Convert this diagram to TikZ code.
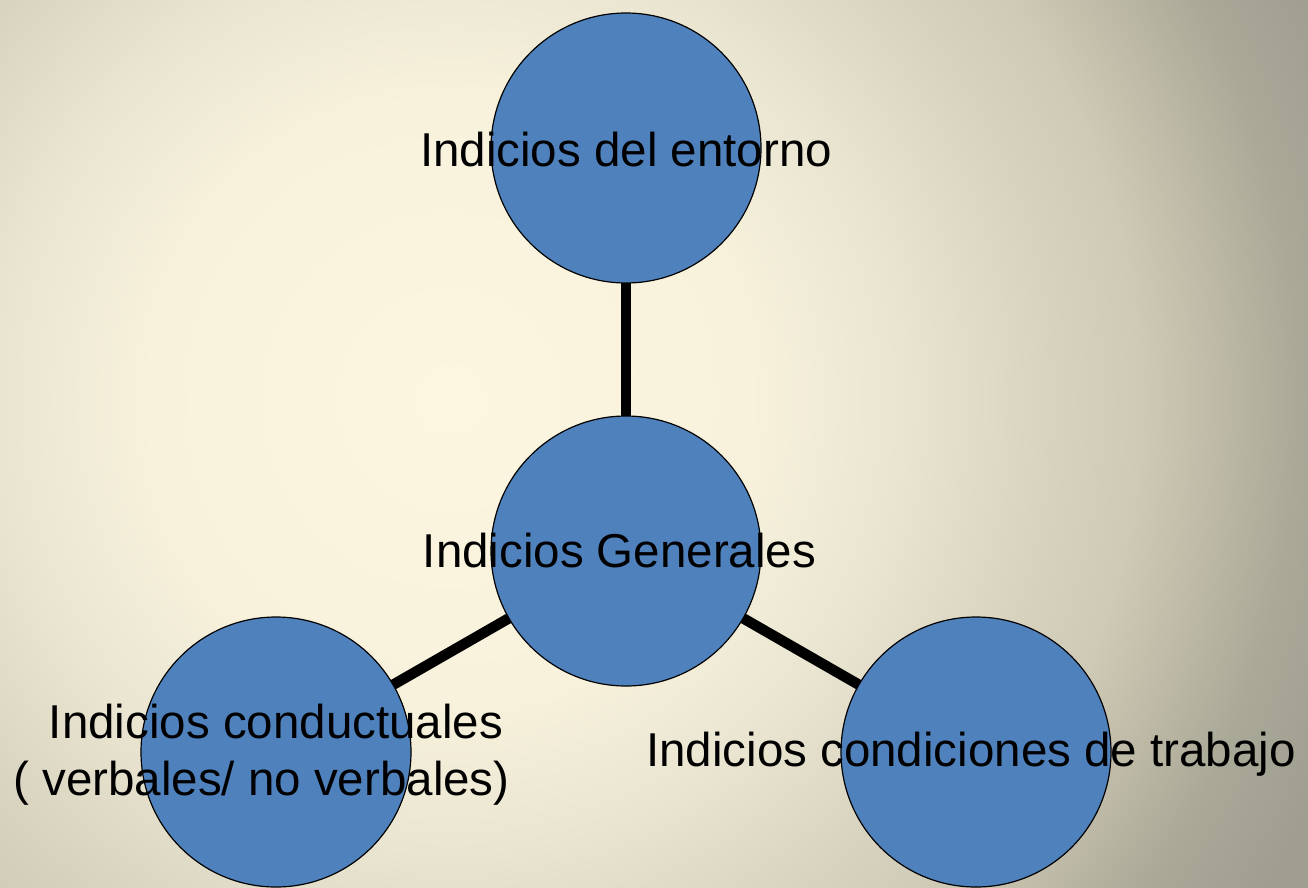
\documentclass[tikz,border=0pt]{standalone}
\usepackage{fontspec}
\setmainfont{Liberation Sans}
\usetikzlibrary{positioning,calc}
\definecolor{bubble}{RGB}{79,129,189}
\definecolor{paperA}{RGB}{252,246,225}
\definecolor{paperB}{RGB}{248,242,220}
\definecolor{paperC}{RGB}{233,229,209}
\definecolor{paperD}{RGB}{216,211,191}
\definecolor{paperE}{RGB}{207,202,181}
\definecolor{paperF}{RGB}{170,168,151}
\definecolor{paperG}{RGB}{160,158,144}
% 25bp = radius of the shaded circle
\pgfdeclareradialshading{paper}{\pgfpoint{0bp}{0bp}}{color(0bp)=(paperA); color(7.5bp)=(paperB); color(11.25bp)=(paperC); color(15bp)=(paperD); color(17.25bp)=(paperE); color(21.25bp)=(paperF); color(23.75bp)=(paperG); color(50bp)=(paperG)}
\pgfdeclarelayer{paperlayer}
\pgfdeclarelayer{edges}
\pgfsetlayers{paperlayer,edges,main}

\begin{document}
\begin{tikzpicture}[x=1pt,y=1pt,
		idea/.style={circle,draw=black,line width=1.2pt,fill=bubble,minimum size=270pt,inner sep=0pt},
		link/.style={line width=10.5pt},
		every label/.style={font=\fontsize{47.5}{57}\selectfont,text=black,inner sep=0pt}]
		\def\W{1308}
		\def\H{887}
		\useasboundingbox (0,0) rectangle (\W,-\H);
		%circles
		\node[idea,label={[yshift=-2pt]center:Indicios del entorno}] (env) at (626,-148) {};
		\node[idea,label={[xshift=-6.5pt]center:Indicios Generales}] (gen) at (626,-551) {};
		\node[idea,label={[align=center,yshift=-3pt]center:{Indicios conductuales\\( verbales/ no verbales)\hspace*{29pt}}}] (cond) at (276,-752) {};
		\node[idea,label={[xshift=-5pt,yshift=-2pt]center:Indicios condiciones de trabajo}] (work) at (976,-752) {};
		%links
		\begin{pgfonlayer}{edges}
			\draw[link] (gen.center) -- (env.center);
			\draw[link] (gen.center) -- (cond.center);
			\draw[link] (gen.center) -- (work.center);
		\end{pgfonlayer}
		%background
		\begin{pgfonlayer}{paperlayer}
			\clip (0,0) rectangle (\W,-\H);
			\shade[shading=paper] (450,-400) circle (1000);
		\end{pgfonlayer}
	\end{tikzpicture}
\end{document}
